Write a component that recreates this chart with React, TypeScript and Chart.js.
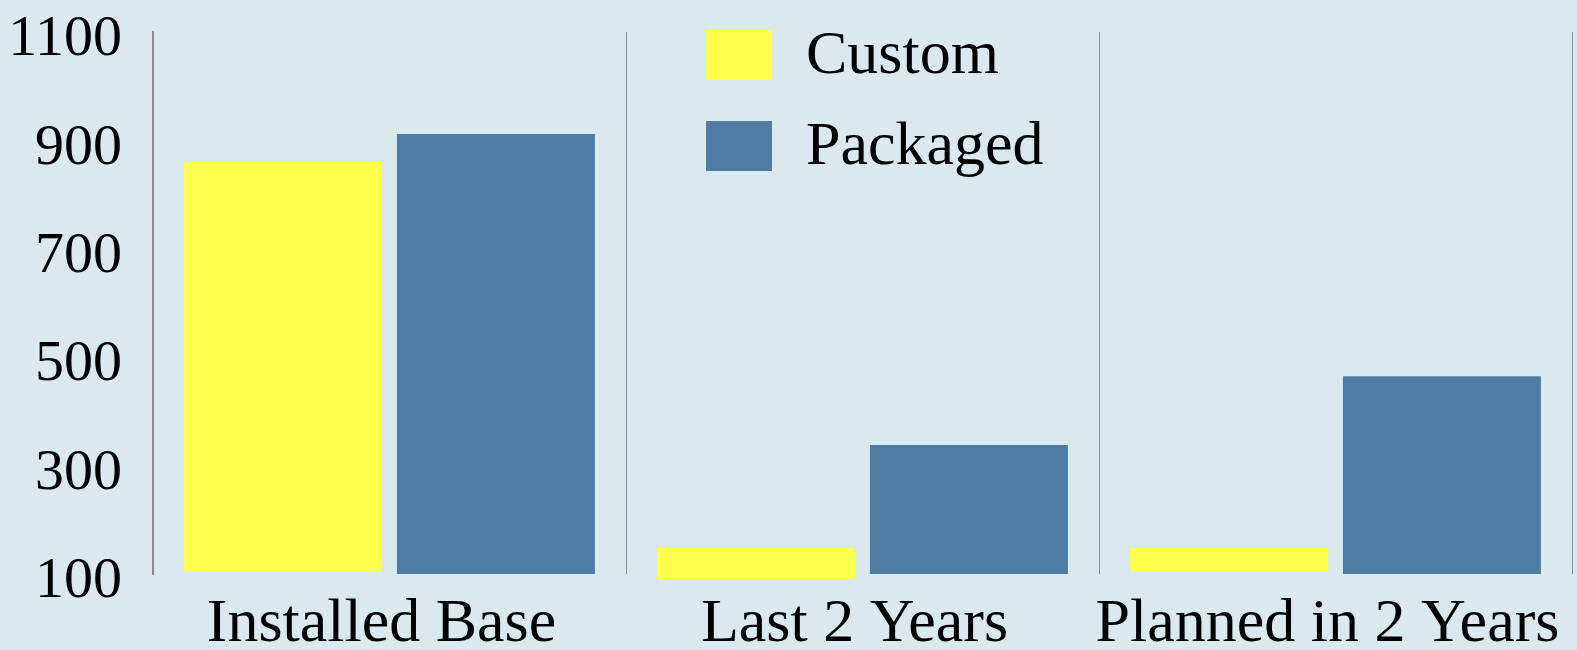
import { useEffect, useRef } from "react";
import { Chart, registerables } from "chart.js";

Chart.register(...registerables);

const categories = ["Installed Base", "Last 2 Years", "Planned in 2 Years"];
const seriesNames = ["Custom", "Packaged"];
const customLow = [105, 91, 105];
const customHigh = [860, 148, 148];
const packagedValues = [912, 338, 465];
const yMin = 100;
const yMax = 1100;
const yStep = 200;

const SERIF = "'Liberation Serif', 'Times New Roman', serif";
const BG = "#dae9ee";
const YELLOW = "#ffff4d";
const BLUE = "#4f7ca2";

const boxLegend = {
  id: "boxLegend",
  afterDraw(chart: any) {
    const ctx = chart.ctx as CanvasRenderingContext2D;
    const left = chart.chartArea.left + 553;
    const top = chart.chartArea.top - 2;
    ctx.save();
    chart.data.datasets.forEach((ds: any, i: number) => {
      const y = top + i * 91;
      ctx.fillStyle = ds.backgroundColor;
      ctx.fillRect(left, y, 66, 50);
      ctx.fillStyle = "#000";
      ctx.font = `62px ${SERIF}`;
      ctx.textBaseline = "middle";
      ctx.textAlign = "left";
      ctx.fillText(ds.label, left + 100, y + 27);
    });
    ctx.restore();
  },
};

export default function App() {
  const ref = useRef<HTMLCanvasElement | null>(null);

  useEffect(() => {
    if (!ref.current) return;
    const chart = new Chart(ref.current, {
      type: "bar",
      data: {
        labels: categories,
        datasets: [
          {
            label: seriesNames[0],
            data: categories.map((_, i) => [customLow[i], customHigh[i]]) as any,
            backgroundColor: YELLOW,
            borderWidth: 0,
            clip: false as any,
          },
          {
            label: seriesNames[1],
            data: packagedValues,
            backgroundColor: BLUE,
            borderWidth: 0,
          },
        ],
      },
      options: {
        responsive: false,
        animation: false,
        maintainAspectRatio: false,
        categoryPercentage: 0.9,
        barPercentage: 0.93,
        layout: { padding: { left: 6, right: 5, top: 32, bottom: 0 } },
        plugins: {
          legend: { display: false },
          tooltip: { enabled: false },
        },
        scales: {
          x: {
            offset: true,
            grid: {
              display: true,
              offset: true,
              color: "#8c8c8c",
              lineWidth: 1,
              drawTicks: false,
            },
            border: { display: false },
            ticks: {
              color: "#000",
              padding: 33,
              labelOffset: -8,
              maxRotation: 0,
              autoSkip: false,
              font: { family: SERIF, size: 62, lineHeight: 0.58 },
            },
            afterFit: (scale: any) => {
              scale.height = 76;
              scale.paddingLeft = 0;
              scale.paddingRight = 0;
            },
          },
          y: {
            min: yMin,
            max: yMax,
            grid: { display: false, drawTicks: false },
            border: { display: true, color: "#8c8c8c", width: 2 },
            ticks: {
              stepSize: yStep,
              color: "#000",
              padding: 31,
              labelOffset: 8,
              callback: (v: any) => String(v),
              font: { family: SERIF, size: 58, lineHeight: 1 },
            },
            afterFit: (scale: any) => {
              scale.width = 147;
              scale.paddingTop = 0;
              scale.paddingBottom = 0;
            },
          },
        },
      },
      plugins: [boxLegend],
    });
    return () => chart.destroy();
  }, []);

  return (
    <div
      style={{
        position: "absolute",
        left: 0,
        top: 0,
        width: 1577,
        height: 650,
        background: BG,
        overflow: "hidden",
      }}
    >
      <canvas ref={ref} width={1577} height={650} style={{ display: "block" }} />
    </div>
  );
}
